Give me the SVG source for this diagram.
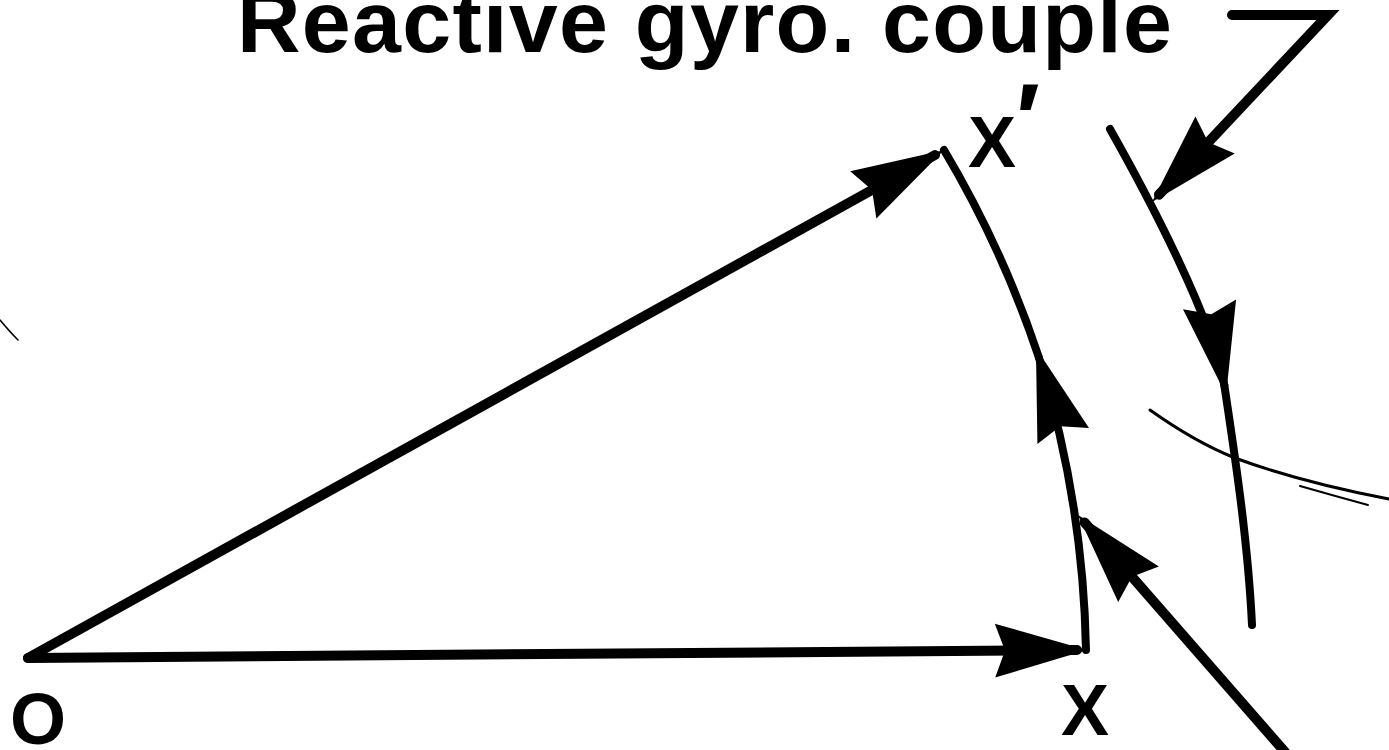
<svg xmlns="http://www.w3.org/2000/svg" width="1389" height="750" viewBox="0 0 1389 750">
<defs>
<style>
.ln{fill:none;stroke:#000;stroke-linecap:round;stroke-linejoin:miter}
.thick{stroke-width:10}
.curve{stroke-width:8}
.thin{fill:none;stroke:#000;stroke-linecap:round}
.lbl{font-family:"Liberation Sans",Arial,Helvetica,sans-serif;font-weight:bold;fill:#000}
</style>
<marker id="ah" markerUnits="userSpaceOnUse" orient="auto" markerWidth="110" markerHeight="64" viewBox="-90 -32 110 64" refX="0" refY="0">
<path d="M10,0 L-82,-27 L-72,0 L-82,27 Z" fill="#000"/>
</marker>
</defs>
<rect width="1389" height="750" fill="#fff"/>
<g id="title">
<text class="lbl" x="237" y="52" font-size="88" textLength="935" lengthAdjust="spacing">Reactive gyro. couple</text>
</g>
<g id="label-O"><text class="lbl" x="10" y="744" font-size="72">O</text></g>
<g id="label-X"><text class="lbl" x="1061" y="735" font-size="72">X</text></g>
<g id="label-Xp"><text class="lbl" x="968" y="167" font-size="72">X<tspan font-size="100" dy="-13">′</tspan></text></g>
<g id="connectors">
<path class="ln thick" d="M28,658 L1077,650" marker-end="url(#ah)"/>
<path class="ln thick" d="M28,658 L935,155" marker-end="url(#ah)"/>
<path class="ln curve" d="M1086,650 A1052,1052 0 0 0 1038.9,357.6" marker-end="url(#ah)"/>
<path class="ln curve" d="M1038.9,357.6 A1052,1052 0 0 0 944,150"/>
<path class="ln curve" d="M1110,129 C1150,200 1212,318 1224.3,385.1" marker-end="url(#ah)"/>
<path class="ln curve" d="M1224.3,385.1 C1234,450 1248,540 1252,625"/>
<path class="ln thick" d="M1232,15 L1328,15 L1158.9,194.7" marker-end="url(#ah)"/>
<path class="ln thick" d="M1285,752 L1084.6,522.5" marker-end="url(#ah)"/>
<path class="thin" stroke-width="3" d="M1150,410 Q1195,442 1235,458 Q1300,482 1389,499"/>
<path class="thin" stroke-width="2" d="M1300,486 Q1335,496 1368,505"/>
<path class="thin" stroke-width="1.6" d="M0,320 Q10,332 18,340"/>
</g>
</svg>
